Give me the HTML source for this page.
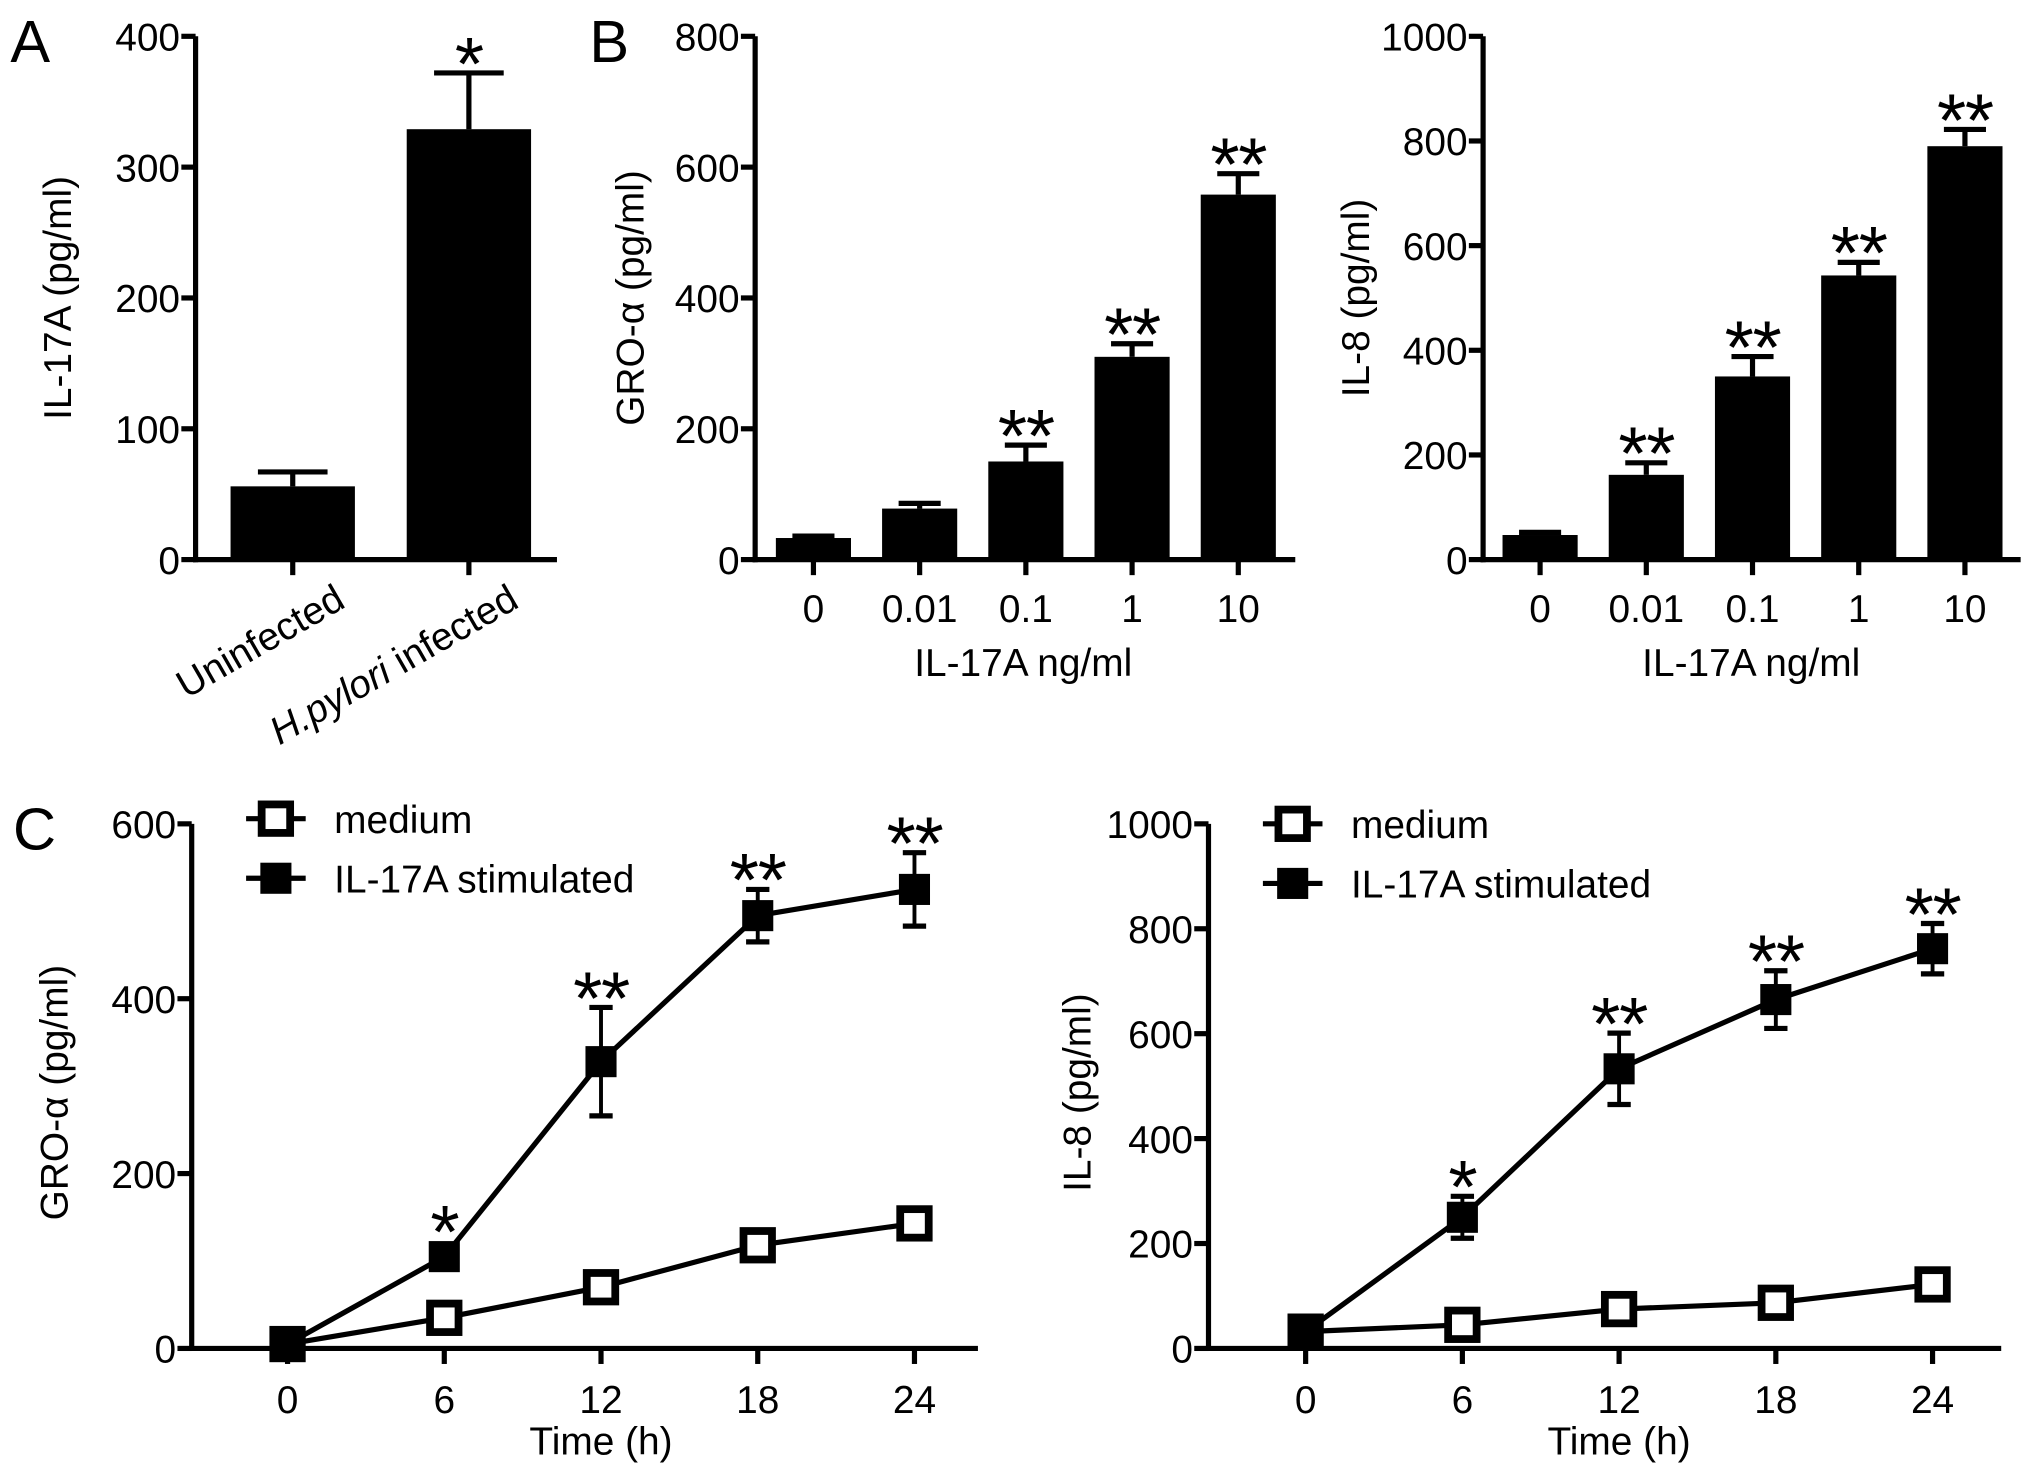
<!DOCTYPE html>
<html><head><meta charset="utf-8">
<style>
html,body{margin:0;padding:0;background:#fff;}
svg{display:block;font-family:"Liberation Sans",sans-serif;}
</style></head>
<body>
<svg id="fig" width="2031" height="1478" viewBox="0 0 1568 1141" xmlns="http://www.w3.org/2000/svg"></svg>
<script>
// Panel A data
const aCats = ["Uninfected", "H.pylori infected"];
const aVals = [56, 329];
const aErrs = [11, 43];
const aStars = ["", "*"];
const aTicks = [0, 100, 200, 300, 400];
// Panel B1 data (GRO-alpha)
const bCats = ["0", "0.01", "0.1", "1", "10"];
const b1Vals = [33, 78, 150, 310, 558];
const b1Errs = [3, 8, 25, 20, 32];
const b1Stars = ["", "", "**", "**", "**"];
const b1Ticks = [0, 200, 400, 600, 800];
// Panel B2 data (IL-8)
const b2Vals = [47, 162, 350, 543, 790];
const b2Errs = [5, 23, 38, 25, 32];
const b2Stars = ["", "**", "**", "**", "**"];
const b2Ticks = [0, 200, 400, 600, 800, 1000];
// Panel C data
const cTimes = [0, 6, 12, 18, 24];
const c1Medium = [5, 35, 70, 118, 143];
const c1MediumErr = [3, 5, 15, 8, 10];
const c1Il17 = [5, 105, 328, 495, 525];
const c1Il17Err = [3, 10, 62, 30, 42];
const c1Stars = ["", "*", "**", "**", "**"];
const c1Ticks = [0, 200, 400, 600];
const c2Medium = [32, 45, 75, 87, 122];
const c2MediumErr = [5, 5, 8, 8, 10];
const c2Il17 = [32, 250, 533, 665, 762];
const c2Il17Err = [5, 40, 68, 55, 48];
const c2Stars = ["", "*", "**", "**", "**"];
const c2Ticks = [0, 200, 400, 600, 800, 1000];

const NS = "http://www.w3.org/2000/svg";
const svg = document.getElementById("fig");
function mk(tag, attrs, parent, text) {
  const e = document.createElementNS(NS, tag);
  for (const k in attrs) e.setAttribute(k, attrs[k]);
  if (text !== undefined) e.textContent = text;
  (parent || svg).appendChild(e);
  return e;
}
function line(x1, y1, x2, y2, p, w) {
  return mk("line", {x1, y1, x2, y2, stroke: "#000", "stroke-width": w || 4}, p);
}
function star(g, x, top, s) {
  const st = mk("text", {x: x, y: top + 13, "font-size": 58, "text-anchor": "middle", "letter-spacing": "-1"}, g, s);
  
  
}

function yAxis(g, x, y0, y1, max, ticks) {
  const ys = v => y0 - (v / max) * (y0 - y1);
  const ax = line(x, y0 + 2, x, y1, g);
  
  
  ticks.forEach(t => {
    const tk = line(x - 11, ys(t), x, ys(t), g);
    
    
    const lb = mk("text", {x: x - 12, y: ys(t) + 11, "font-size": 30, "text-anchor": "end"}, g, String(t));
    
    
  });
  return ys;
}
function yTitle(g, x, cy, txt) {
  const t = mk("text", {x: x, y: cy, "font-size": 30, "text-anchor": "middle", transform: `rotate(-90 ${x} ${cy})`}, g, txt);
  
  
  return t;
}
function panelLetter(x, y, txt) {
  const t = mk("text", {x, y, "font-size": 46}, svg, txt);
  
  
}

function barPanel(name, axX, xEnd, y0, y1, max, ticks, cats, vals, errs, stars, xs, bw, labels) {
  const g = mk("g", {});
  
  
  const ys = yAxis(g, axX, y0, y1, max, ticks);
  const xa = line(axX - 2, y0, xEnd, y0, g);
  
  
  vals.forEach((v, i) => {
    const cx = xs(i);
    const top = ys(v + errs[i]);
    const el = line(cx, ys(v), cx, top, g);
    
    
    const cap = line(cx - bw * 0.28, top, cx + bw * 0.28, top, g);
    
    
    const r = mk("rect", {x: cx - bw / 2, y: ys(v), width: bw, height: y0 - ys(v), fill: "#000"}, g);
    
    
    const tk = line(cx, y0, cx, y0 + 12, g);
    
    
    if (stars[i]) star(g, cx, top, stars[i]);
    if (labels) {
      const l = mk("text", {x: cx, y: y0 + 48, "font-size": 30, "text-anchor": "middle"}, g, cats[i]);
      
      
    }
  });
  return {g, ys};
}

// Panel A
panelLetter(8, 48, "A");
const pA = barPanel("panel-a-bar-chart", 151, 430, 432, 28, 400, aTicks, aCats, aVals, aErrs, aStars,
  i => 226 + i * 136, 96, false);
yTitle(pA.g, 55, 230, "IL-17A (pg/ml)");
{
  const l1 = mk("text", {x: 268, y: 468, "font-size": 30, "text-anchor": "end", transform: "rotate(-30 268 468)"}, pA.g, "Uninfected");
  
  
  const l2 = mk("text", {x: 402, y: 468, "font-size": 30, "text-anchor": "end", transform: "rotate(-30 402 468)"}, pA.g);
  
  
  mk("tspan", {"font-style": "italic"}, l2, "H.pylori");
  mk("tspan", {}, l2, " infected");
}

// Panel B1
panelLetter(455, 48, "B");
const pB1 = barPanel("panel-b-gro-alpha-chart", 583, 1000, 432, 28, 800, b1Ticks, bCats, b1Vals, b1Errs, b1Stars,
  i => 628 + i * 82, 58, true);
yTitle(pB1.g, 497, 230, "GRO-α  (pg/ml)");
{ const t = mk("text", {x: 790, y: 522, "font-size": 30, "text-anchor": "middle"}, pB1.g, "IL-17A ng/ml");
    }

// Panel B2
const pB2 = barPanel("panel-b-il8-chart", 1145, 1560, 432, 28, 1000, b2Ticks, bCats, b2Vals, b2Errs, b2Stars,
  i => 1189 + i * 82, 58, true);
yTitle(pB2.g, 1057, 230, "IL-8  (pg/ml)");
{ const t = mk("text", {x: 1352, y: 522, "font-size": 30, "text-anchor": "middle"}, pB2.g, "IL-17A ng/ml");
    }

// Line panels
function marker(g, x, y, open, name) {
  const m = mk("rect", {x: x - 11, y: y - 11, width: 22, height: 22, fill: open ? "#fff" : "#000", stroke: "#000", "stroke-width": open ? 6 : 2}, g);
  
  
}
function linePanel(name, axX, xEnd, x0, y0, y1, max, ticks, med, medE, il, ilE, stars, legX, legY, ylabX, ylabTxt) {
  const g = mk("g", {});
  
  
  const ys = yAxis(g, axX, y0, y1, max, ticks);
  const xs = t => x0 + t * (121 / 6);
  const xa = line(axX - 2, y0, xEnd, y0, g);
  
  
  cTimes.forEach(t => {
    const tk = line(xs(t), y0, xs(t), y0 + 12, g);
     
    const l = mk("text", {x: xs(t), y: y0 + 50, "font-size": 30, "text-anchor": "middle"}, g, String(t));
     
  });
  const xt = mk("text", {x: (xs(0) + xs(24)) / 2, y: y0 + 82, "font-size": 30, "text-anchor": "middle"}, g, "Time (h)");
   
  yTitle(g, ylabX, (y0 + y1) / 2 + 5, ylabTxt);
  [[med, medE, true, 'medium'], [il, ilE, false, 'il17a-stimulated']].forEach(([vals, errs, open, sn]) => {
    const p = mk("polyline", {points: vals.map((v, i) => xs(cTimes[i]) + "," + ys(v)).join(" "), fill: "none", stroke: "#000", "stroke-width": 4}, g);
    
    
    vals.forEach((v, i) => {
      const x = xs(cTimes[i]);
      const a = ys(v + errs[i]), b = ys(v - errs[i]);
      const e = line(x, a, x, b, g, 3);
       
      const c1 = line(x - 9, a, x + 9, a, g, 4);
       
      const c2 = line(x - 9, b, x + 9, b, g, 4);
       
      marker(g, x, ys(v), open, sn + '-point');
    });
  });
  stars.forEach((s, i) => {
    if (!s) return;
    const top = Math.min(ys(il[i] + ilE[i]), ys(il[i]) - 12);
    star(g, xs(cTimes[i]), top, s);
  });
  [["medium", true, 0], ["IL-17A stimulated", false, 46]].forEach(([txt, open, dy]) => {
    const lg = mk("g", {}, g);
    
    
    line(legX, legY + dy, legX + 46, legY + dy, lg);
    marker(lg, legX + 23, legY + dy, open, 'legend-marker');
    const t = mk("text", {x: legX + 68, y: legY + dy + 11, "font-size": 30}, lg, txt);
     
  });
}

panelLetter(10, 656, "C");
linePanel("panel-c-gro-alpha-chart", 148, 755, 222, 1041, 636, 600, c1Ticks, c1Medium, c1MediumErr, c1Il17, c1Il17Err, c1Stars, 190, 632, 52, "GRO-α  (pg/ml)");
linePanel("panel-c-il8-chart", 933, 1545, 1008, 1041, 636, 1000, c2Ticks, c2Medium, c2MediumErr, c2Il17, c2Il17Err, c2Stars, 975, 636, 842, "IL-8  (pg/ml)");
</script>
</body></html>
